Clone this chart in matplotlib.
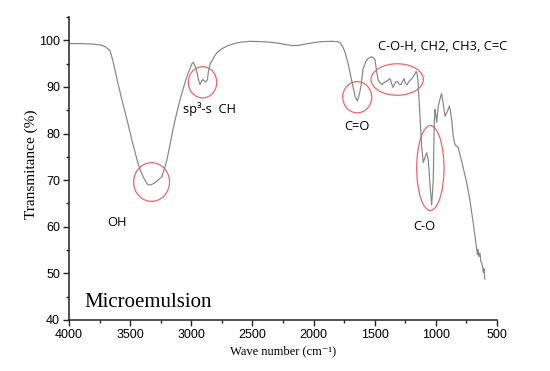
import matplotlib
matplotlib.use("Agg")
import matplotlib.pyplot as plt
from matplotlib.patches import Ellipse
from matplotlib.ticker import MultipleLocator

# ----- FTIR spectrum -----
wavenumber = [
    4000, 3900, 3800, 3740, 3700, 3665, 3640, 3607, 3570, 3526,
    3485, 3444, 3420, 3395, 3370, 3354, 3330, 3300, 3280, 3240,
    3220, 3199, 3175, 3150, 3120, 3092, 3060, 3035, 3010, 2995,
    2986, 2970, 2953, 2940, 2929, 2915, 2905, 2895, 2880, 2868,
    2860, 2845, 2831, 2810, 2790, 2750, 2708, 2650, 2602, 2520,
    2400, 2316, 2250, 2180, 2127, 2050, 1950, 1849, 1800, 1784,
    1760, 1743, 1720, 1702, 1680, 1661, 1642, 1625, 1612, 1596,
    1575, 1555, 1522, 1498, 1485, 1473, 1457, 1441, 1420, 1400,
    1375, 1351, 1330, 1318, 1300, 1285, 1261, 1250, 1236, 1215,
    1195, 1175, 1162, 1154, 1146, 1130, 1116, 1103, 1090, 1075,
    1062, 1048, 1034, 1021, 1013, 1007, 1000, 993, 980, 965,
    953, 940, 925, 905, 890, 880, 871, 858, 844, 830,
    817, 790, 748, 720, 690, 666, 660, 655, 648, 639,
    632, 625, 618, 612, 606, 600,
]
transmittance = [
    99.3, 99.3, 99.2, 99.0, 98.6, 97.8, 95.5, 91.6, 87.5, 83.0,
    78.5, 74.4, 72.3, 70.8, 69.6, 69.0, 69.0, 69.4, 69.8, 70.8,
    72.5, 74.4, 77.5, 80.9, 84.3, 87.3, 90.2, 92.3, 94.0, 95.0,
    95.3, 94.6, 93.0, 91.5, 90.5, 91.3, 91.6, 91.3, 91.1, 91.6,
    93.3, 95.0, 95.6, 96.6, 97.4, 98.2, 98.8, 99.3, 99.6, 99.8,
    99.7, 99.5, 99.2, 98.9, 98.9, 99.3, 99.7, 99.8, 99.7, 99.5,
    98.6, 97.4, 95.3, 93.1, 90.3, 88.0, 87.0, 88.5, 90.2, 93.8,
    95.3, 96.1, 96.5, 95.9, 93.5, 91.6, 90.9, 90.5, 91.0, 91.3,
    91.8, 89.9, 91.0, 91.2, 90.6, 90.5, 91.8, 90.8, 90.5, 91.3,
    91.8, 92.6, 93.3, 93.0, 91.3, 83.7, 77.3, 73.8, 74.8, 75.9,
    74.4, 69.0, 64.7, 70.1, 82.4, 85.2, 84.0, 82.4, 85.9, 87.5,
    88.6, 86.5, 83.7, 84.8, 85.9, 84.8, 83.0, 79.5, 77.6, 77.3,
    77.0, 74.2, 69.5, 65.5, 60.0, 55.1, 54.0, 55.2, 53.6, 54.4,
    52.5, 52.3, 51.5, 50.2, 51.0, 48.8,
]

# band assignments: label, text position (wn, T), ellipse centre/size in data units
band_labels = ["OH", "sp³-s  CH", "C=O", "C-O-H, CH2, CH3, C=C", "C-O"]
label_pos = [(3689, 60.9), (3070, 85.3), (1749, 81.6), (1476, 98.6), (1181, 60.0)]
ellipses = [
    (3325, 69.6, 294, 8.3),
    (2908, 91.0, 232, 6.7),
    (1643, 87.8, 237, 6.7),
    (1316, 91.6, 428, 6.75),
    (1045, 72.6, 223, 18.2),
]

# ----- Plot -----
fig = plt.figure(figsize=(5.5, 3.71), dpi=100)
ax = fig.add_axes([0.1255, 0.1375, 0.7781, 0.8165])

ax.plot(wavenumber, transmittance, color="#858585", linewidth=0.85)

for (cx, cy, w, h) in ellipses:
    ax.add_patch(Ellipse((cx, cy), w, h, fill=False, edgecolor="#f06464", linewidth=0.9))

for lab, (x, y) in zip(band_labels, label_pos):
    ax.text(x, y, lab, fontsize=9.3, family=["Open Sans", "DejaVu Sans"],
            ha="left", va="center", color="black")

ax.text(3877, 43.7, "Microemulsion", fontsize=15, family="Liberation Serif",
        ha="left", va="center")

ax.set_xlim(4000, 500)
ax.set_ylim(40, 105)
ax.xaxis.set_major_locator(MultipleLocator(500))
ax.xaxis.set_minor_locator(MultipleLocator(250))
ax.yaxis.set_minor_locator(MultipleLocator(5))
ax.set_yticks([40, 50, 60, 70, 80, 90, 100])

for s in ["top", "right"]:
    ax.spines[s].set_visible(False)
for s in ["left", "bottom"]:
    ax.spines[s].set_linewidth(1.1)
    ax.spines[s].set_color("#222222")

ax.tick_params(which="major", direction="out", length=4.5, width=1.0,
               labelsize=9, pad=2, color="#222222")
ax.tick_params(which="minor", direction="out", length=2.5, width=1.0, color="#222222")
for lbl in ax.get_xticklabels() + ax.get_yticklabels():
    lbl.set_family("Liberation Sans")

ax.set_xlabel("Wave number (cm⁻¹)", fontsize=9,
              family=["Liberation Serif", "DejaVu Serif"], labelpad=3)
ax.set_ylabel("Transmitance (%)", fontsize=11,
              family=["Liberation Serif", "DejaVu Serif"])
ax.yaxis.set_label_coords(-0.073, 0.515)

fig.savefig("out.png", dpi=100)
